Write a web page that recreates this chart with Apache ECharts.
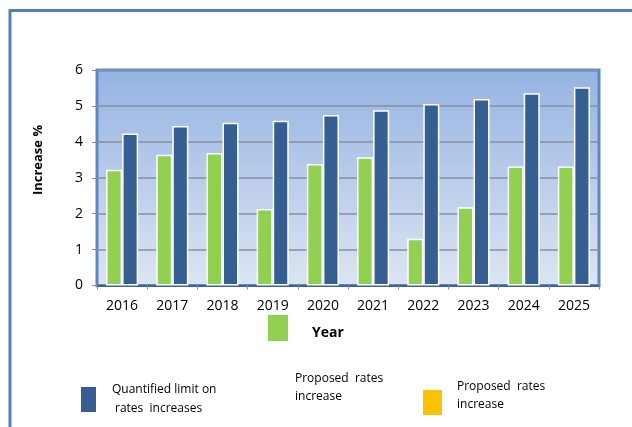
<!DOCTYPE html>
<html>
<head>
<meta charset="utf-8">
<script src="https://cdn.jsdelivr.net/npm/echarts@6/dist/echarts.min.js"></script>
<style>
html,body{margin:0;padding:0;background:#fff;}
#c{width:632px;height:427px;}
</style>
</head>
<body>
<div id="c"></div>
<script>
var years = ['2016','2017','2018','2019','2020','2021','2022','2023','2024','2025'];
var proposedRates = [3.22, 3.64, 3.69, 2.13, 3.38, 3.57, 1.30, 2.18, 3.31, 3.31];
var quantifiedLimit = [4.23, 4.44, 4.53, 4.59, 4.75, 4.88, 5.05, 5.19, 5.35, 5.52];
var yTicks = [0, 1, 2, 3, 4, 5, 6];
var seriesNames = ['Proposed rates increase', 'Quantified limit on rates increases'];

var FONT = '"Open Sans", "Liberation Sans", sans-serif';
var chart = echarts.init(document.getElementById('c'), null, {renderer: 'canvas'});
chart.setOption({
  animation: false,
  backgroundColor: '#ffffff',
  grid: {
    left: 97, right: 33, top: 70, bottom: 141.5,
    show: true,
    backgroundColor: new echarts.graphic.LinearGradient(0, 0, 0, 1, [
      {offset: 0, color: '#95b3e2'},
      {offset: 1, color: '#dde5f3'}
    ]),
    borderColor: '#5b87c5',
    borderWidth: 3
  },
  xAxis: {
    type: 'category',
    data: years,
    axisLine: {show: true, lineStyle: {color: '#3f6296', width: 2}},
    axisTick: {show: true, length: 4, lineStyle: {color: '#8c8c8c'}},
    axisLabel: {color: '#000', fontSize: 14, fontFamily: FONT, margin: 14}
  },
  yAxis: {
    type: 'value',
    min: yTicks[0], max: yTicks[yTicks.length - 1], interval: 1,
    axisLine: {show: false},
    axisTick: {show: true, length: 5, lineStyle: {color: '#8c8c8c'}},
    axisLabel: {color: '#000', fontSize: 14, fontFamily: FONT, margin: 14},
    splitLine: {show: true, lineStyle: {color: '#868fa0', width: 1.5}}
  },
  series: [
    {
      name: seriesNames[0], type: 'bar', data: proposedRates,
      barGap: '0%', barCategoryGap: '36%',
      itemStyle: {color: '#92d050', borderColor: '#ffffff', borderWidth: 1.5}
    },
    {
      name: seriesNames[1], type: 'bar', data: quantifiedLimit,
      itemStyle: {color: '#355f93', borderColor: '#ffffff', borderWidth: 1.5}
    }
  ],
  graphic: [
    {type: 'polyline', shape: {points: [[10, 427], [10, 10.5], [632, 10.5]]},
     style: {stroke: '#4f81bd', lineWidth: 3, fill: null}},
    {type: 'text', x: 38, y: 160, rotation: Math.PI / 2,
     style: {text: 'Increase %', font: 'bold 13px ' + FONT, fill: '#000', textAlign: 'center', textVerticalAlign: 'middle'}},
    {type: 'text', x: 328, y: 333,
     style: {text: 'Year', font: 'bold 14px ' + FONT, fill: '#000', textAlign: 'center', textVerticalAlign: 'middle'}},
    {type: 'rect', shape: {x: 268, y: 315, width: 20, height: 26}, style: {fill: '#92d050'}},
    {type: 'rect', shape: {x: 81, y: 387, width: 15, height: 25}, style: {fill: '#355f93'}},
    {type: 'text', x: 112, y: 390,
     style: {text: 'Quantified limit on', font: '12px ' + FONT, fill: '#000', textVerticalAlign: 'middle'}},
    {type: 'text', x: 115, y: 409,
     style: {text: 'rates  increases', font: '12px ' + FONT, fill: '#000', textVerticalAlign: 'middle'}},
    {type: 'text', x: 295, y: 379,
     style: {text: 'Proposed  rates', font: '12px ' + FONT, fill: '#000', textVerticalAlign: 'middle'}},
    {type: 'text', x: 295, y: 397,
     style: {text: 'increase', font: '12px ' + FONT, fill: '#000', textVerticalAlign: 'middle'}},
    {type: 'rect', shape: {x: 423, y: 390, width: 19, height: 25}, style: {fill: '#ffc000'}},
    {type: 'text', x: 457, y: 387,
     style: {text: 'Proposed  rates', font: '12px ' + FONT, fill: '#000', textVerticalAlign: 'middle'}},
    {type: 'text', x: 457, y: 405,
     style: {text: 'increase', font: '12px ' + FONT, fill: '#000', textVerticalAlign: 'middle'}}
  ]
});
</script>
</body>
</html>
